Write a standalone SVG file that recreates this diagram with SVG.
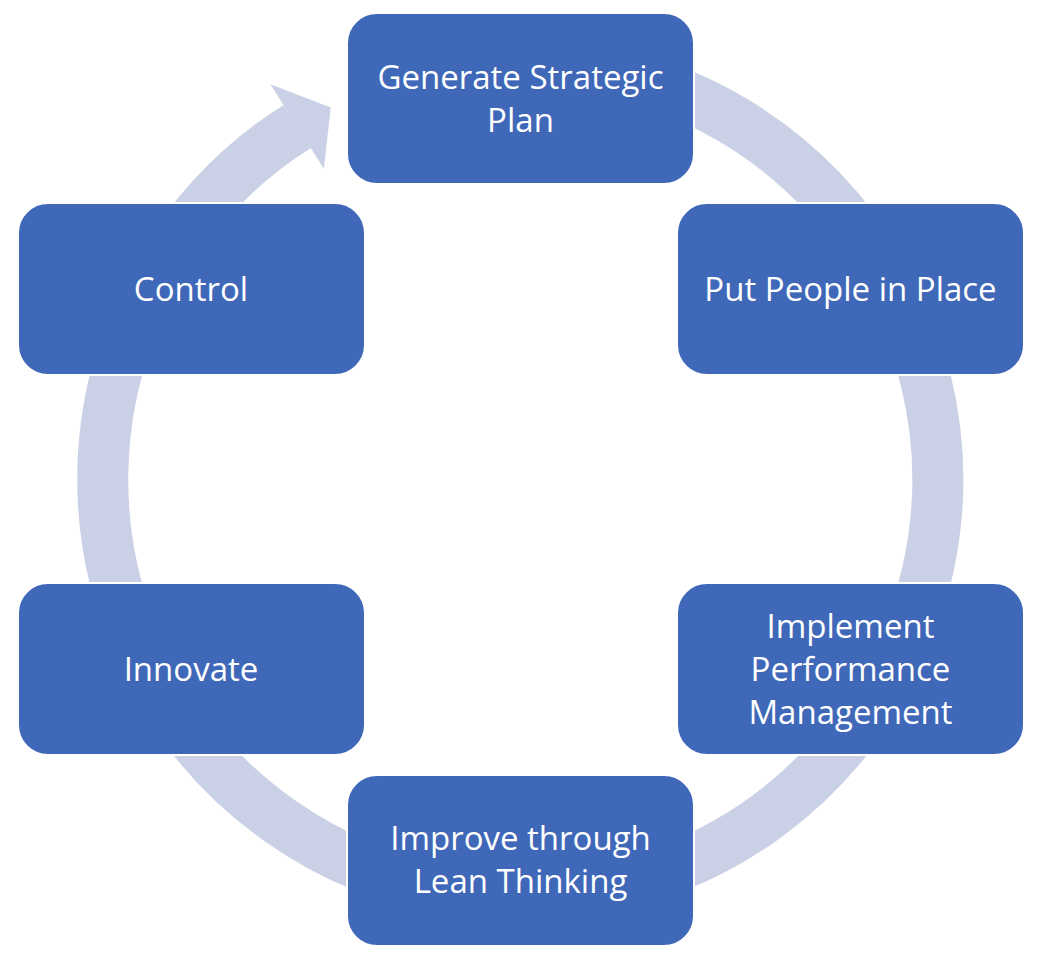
<svg xmlns="http://www.w3.org/2000/svg" width="1039" height="966" viewBox="0 0 1039 966">
<style>
.box{fill:#4068B9;stroke:#FFFFFF;stroke-width:2}
.lbl{fill:#FFFFFF;font-family:"Open Sans","Noto Sans",sans-serif;font-size:33px;text-anchor:middle}
.ring{fill:none;stroke:#CAD0E5;stroke-width:51}
.head{fill:#CAD0E5}
</style>
<rect width="1039" height="966" fill="#FFFFFF"/>
<g id="connectors">
<path class="ring" d="M 447.6 68.3 A 417.5 417.5 0 1 1 297.2 126.5"/>
<polygon class="head" points="270.4,84.2 330.7,107.4 323.9,168.8"/>
</g>
<g id="node-generate">
<rect class="box" x="347" y="13" width="347" height="171" rx="30"/>
<text class="lbl" x="520.5" y="89">Generate Strategic</text>
<text class="lbl" x="520.5" y="132">Plan</text>
</g>
<g id="node-people">
<rect class="box" x="677" y="203" width="347" height="172" rx="30"/>
<text class="lbl" x="850.5" y="301">Put People in Place</text>
</g>
<g id="node-performance">
<rect class="box" x="677" y="583" width="347" height="172" rx="30"/>
<text class="lbl" x="850.5" y="638">Implement</text>
<text class="lbl" x="850.5" y="681">Performance</text>
<text class="lbl" x="850.5" y="724">Management</text>
</g>
<g id="node-lean">
<rect class="box" x="347" y="775" width="347" height="171" rx="30"/>
<text class="lbl" x="520.5" y="850">Improve through</text>
<text class="lbl" x="520.5" y="893">Lean Thinking</text>
</g>
<g id="node-innovate">
<rect class="box" x="18" y="583" width="347" height="172" rx="30"/>
<text class="lbl" x="191" y="681">Innovate</text>
</g>
<g id="node-control">
<rect class="box" x="18" y="203" width="347" height="172" rx="30"/>
<text class="lbl" x="191" y="301">Control</text>
</g>
</svg>
